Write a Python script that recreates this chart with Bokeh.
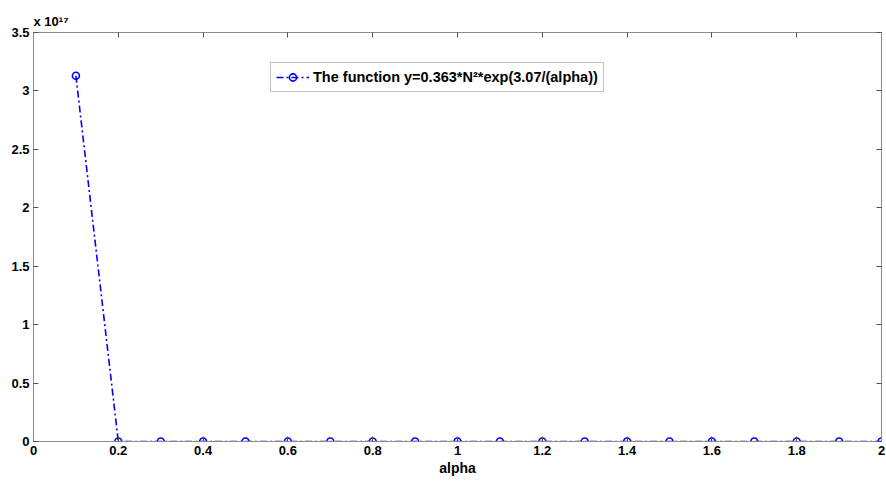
from bokeh.plotting import figure
from bokeh.models import (FixedTicker, CustomJSTickFormatter, LinearAxis, Title,
                          Legend, LegendItem, Range1d)
from bokeh.embed import file_html
from bokeh.resources import INLINE

# Data
alpha = [0.1, 0.2, 0.3, 0.4, 0.5, 0.6, 0.7, 0.8, 0.9, 1.0,
         1.1, 1.2, 1.3, 1.4, 1.5, 1.6, 1.7, 1.8, 1.9, 2.0]
y_vals = [3.13e17, 6.7e10, 4.04e8, 3.13e7, 6.74e6, 2.42e6, 1.17e6, 6.74e5, 4.40e5, 3.13e5,
          2.37e5, 1.87e5, 1.54e5, 1.30e5, 1.12e5, 9.9e4, 8.8e4, 8.0e4, 7.3e4, 6.7e4]
x_ticks = [0, 0.2, 0.4, 0.6, 0.8, 1.0, 1.2, 1.4, 1.6, 1.8, 2.0]
y_ticks = [0, 0.5e17, 1.0e17, 1.5e17, 2.0e17, 2.5e17, 3.0e17, 3.5e17]
legend_label = "The function y=0.363*N\u00b2*exp(3.07/(alpha))"
x_label = "alpha"
y_scale_label = "x 10\u00b9\u2077"

FONT = "Liberation Sans"
GREY = "#8c8c8c"

p = figure(width=886, height=485, output_backend="svg", toolbar_location=None,
           x_range=Range1d(0, 2), y_range=Range1d(0, 3.5e17),
           min_border_left=33, min_border_right=5, min_border_top=32, min_border_bottom=44,
           x_axis_location=None, y_axis_location=None)
p.background_fill_color = "white"
p.border_fill_color = "white"
p.outline_line_color = GREY
p.xgrid.visible = False
p.ygrid.visible = False

xfmt = CustomJSTickFormatter(code="return String(Math.round(tick*10)/10);")
yfmt = CustomJSTickFormatter(code="return String(Math.round(tick/1e16)/10);")
blank = CustomJSTickFormatter(code="return '';")

def style(ax, labels=True):
    ax.axis_line_color = GREY
    ax.major_tick_line_color = "#505050"
    ax.major_tick_in = 5
    ax.major_tick_out = 0
    ax.minor_tick_line_color = None
    ax.major_label_text_font = FONT
    ax.major_label_text_font_style = "bold"
    ax.major_label_text_font_size = "13px"
    ax.major_label_text_color = "black"
    ax.major_label_standoff = 4 if labels else 0

xb = LinearAxis(ticker=FixedTicker(ticks=x_ticks), formatter=xfmt)
style(xb)
xb.axis_label = x_label
xb.axis_label_text_font = FONT
xb.axis_label_text_font_style = "bold"
xb.axis_label_text_font_size = "14px"
xb.axis_label_text_color = "black"
xb.axis_label_standoff = 2
p.add_layout(xb, "below")

yl = LinearAxis(ticker=FixedTicker(ticks=y_ticks), formatter=yfmt)
style(yl)
p.add_layout(yl, "left")

xt = LinearAxis(ticker=FixedTicker(ticks=x_ticks), formatter=blank)
style(xt, labels=False)
p.add_layout(xt, "above")

yr = LinearAxis(ticker=FixedTicker(ticks=y_ticks), formatter=blank)
style(yr, labels=False)
p.add_layout(yr, "right")

ln = p.line(alpha, y_vals, line_color="#0000ff", line_width=1.6, line_dash="7 3 2 3")
mk = p.scatter(alpha, y_vals, marker="circle", size=7, line_color="#0000ff",
               line_width=1.6, fill_color=None)

legend = Legend(items=[LegendItem(label=legend_label, renderers=[ln, mk])],
                location=(237, 349))
legend.label_text_font = FONT
legend.label_text_font_style = "bold"
legend.label_text_font_size = "14.5px"
legend.label_text_color = "black"
legend.border_line_color = GREY
legend.border_line_width = 1
legend.padding = 5
legend.margin = 0
legend.glyph_width = 33
legend.glyph_height = 18
legend.label_standoff = 4
legend.label_height = 18
legend.background_fill_alpha = 1.0
p.add_layout(legend, "center")

t = Title(text=y_scale_label, align="left", text_font=FONT, text_font_style="bold",
          text_font_size="13px", text_color="black", offset=0, standoff=8)
p.add_layout(t, "above")

open("out.html", "w").write(file_html(p, INLINE))
